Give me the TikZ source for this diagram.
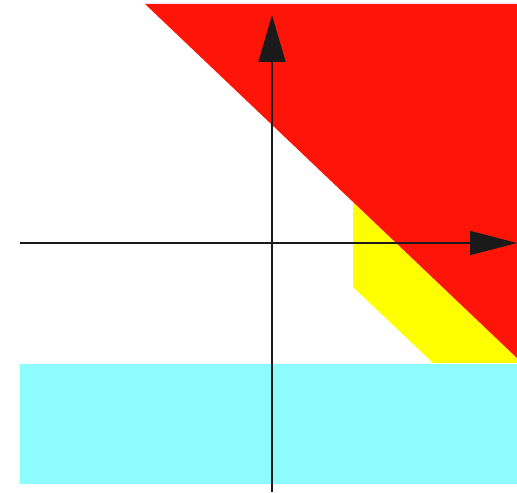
\documentclass[tikz,border=0pt]{standalone}
\usepackage{xcolor}
\usepackage{tikz}
\usetikzlibrary{arrows.meta}
\definecolor{RegRed}{HTML}{FF1508}
\definecolor{RegYellow}{HTML}{FFFF00}
\definecolor{RegCyan}{HTML}{8CFCFC}
\definecolor{AxisInk}{HTML}{1A1A1A}
\tikzset{
  axisline/.style={AxisInk,line width=1pt},
}
\begin{document}
\begin{tikzpicture}[x=0.02cm,y=-0.02cm]
\path[use as bounding box] (0,0) rectangle (517,493);
\fill[white] (0,0) rectangle (517,493);
\fill[RegCyan] (20,364) rectangle (517,484);
\fill[RegYellow] (353,202) -- (353,287) -- (433,363) -- (517,363) -- (517,358) -- cycle;
\fill[RegRed] (145,4) -- (517,4) -- (517,358) -- cycle;
\coordinate (xl) at (20,243);
\coordinate (xr) at (517,243);
\coordinate (yb) at (272,492);
\coordinate (yt) at (272,15);
\draw[axisline,-{Triangle[length=0.94cm,width=0.48cm]}] (xl) -- (xr);
\draw[axisline,-{Triangle[length=0.94cm,width=0.54cm]}] (yb) -- (yt);
\end{tikzpicture}
\end{document}
